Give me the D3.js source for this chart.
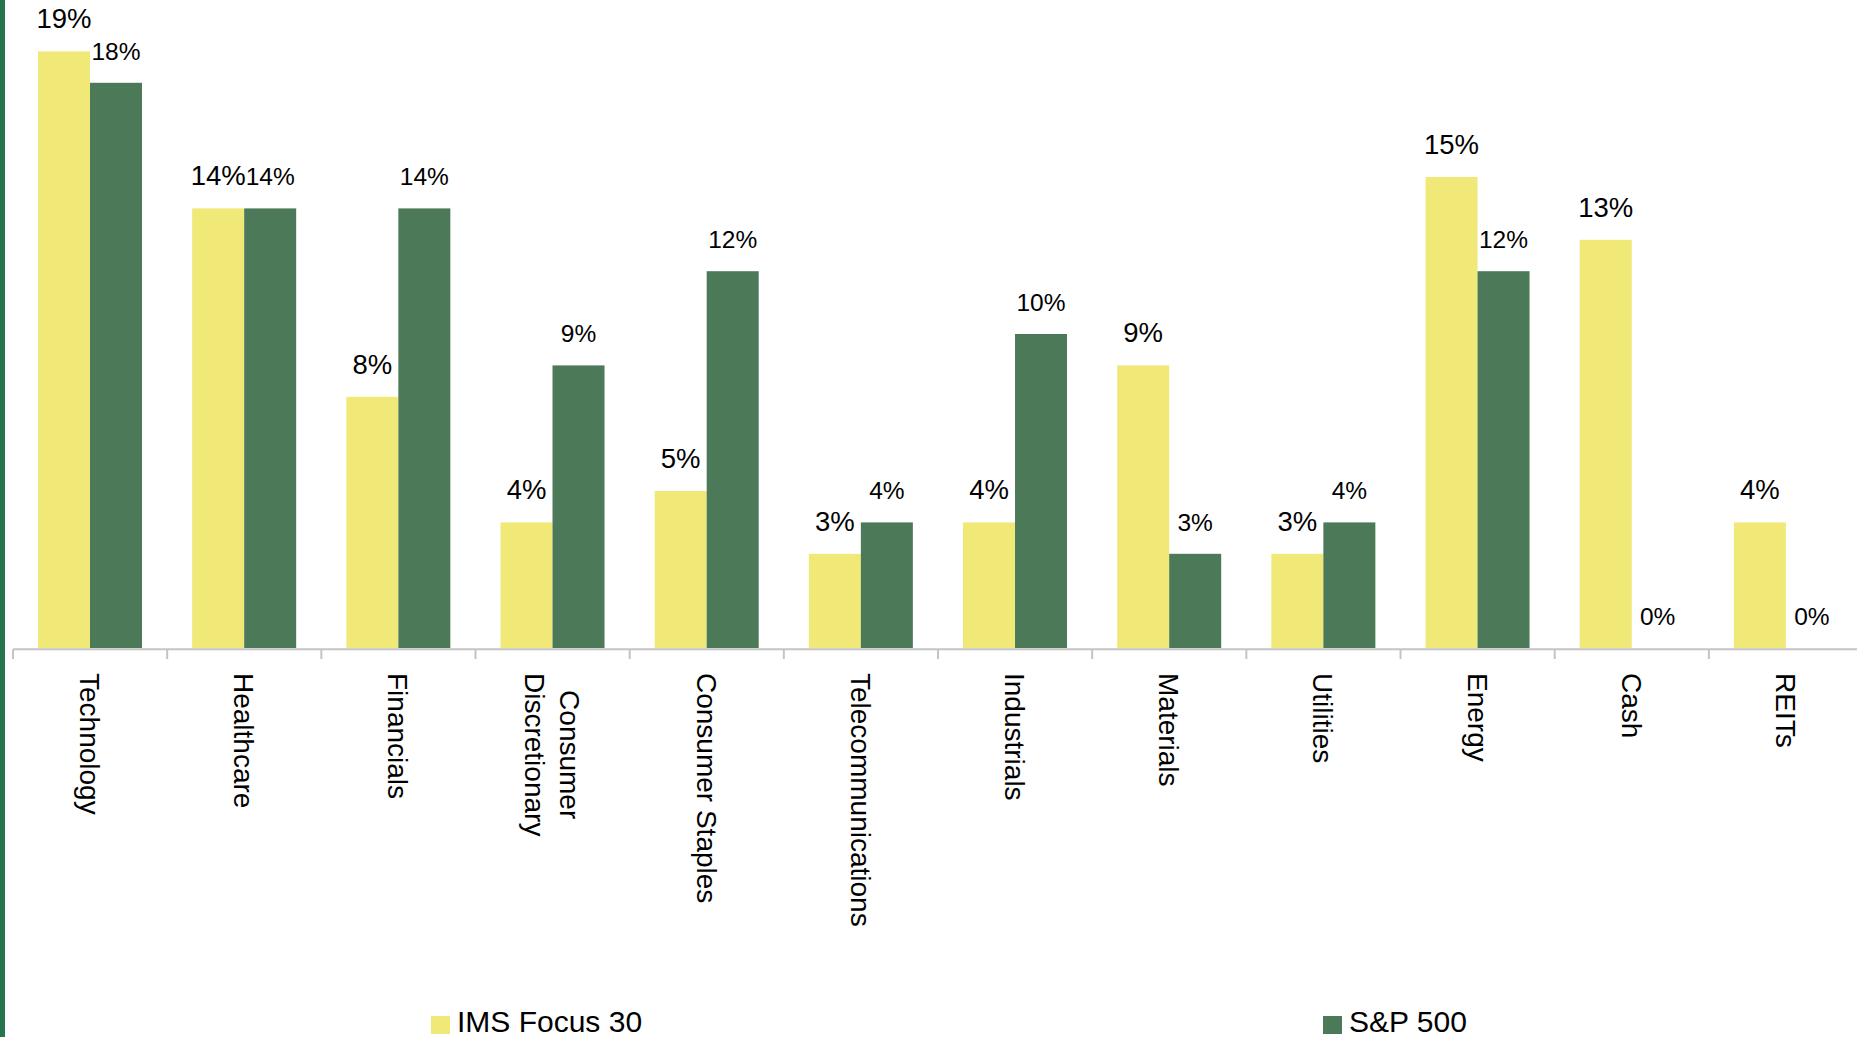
<!DOCTYPE html>
<html>
<head>
<meta charset="utf-8">
<script src="https://cdn.jsdelivr.net/npm/d3@7"></script>
<style>
  html, body { margin: 0; padding: 0; background: #fff; }
  svg { display: block; font-family: "Liberation Sans", Arial, Helvetica, sans-serif; }
</style>
</head>
<body>
<svg id="chart" width="1857" height="1037"></svg>
<script>
// Sector weights: IMS Focus 30 portfolio vs. S&P 500
const categories = ["Technology", "Healthcare", "Financials", "Consumer Discretionary",
  "Consumer Staples", "Telecommunications", "Industrials", "Materials", "Utilities",
  "Energy", "Cash", "REITs"];
const imsFocus30 = [0.19, 0.14, 0.08, 0.04, 0.05, 0.03, 0.04, 0.09, 0.03, 0.15, 0.13, 0.04];
const sp500      = [0.18, 0.14, 0.14, 0.09, 0.12, 0.04, 0.10, 0.03, 0.04, 0.12, 0.00, 0.00];
const seriesNames = ["IMS Focus 30", "S&P 500"];
const seriesColors = ["#f0e978", "#4c7a59"];

const W = 1857, H = 1037;
const svg = d3.select("#chart");

svg.append("rect").attr("width", W).attr("height", H).attr("fill", "#fff");
// left accent stripe
svg.append("rect").attr("x", 0).attr("y", 0).attr("width", 5).attr("height", H).attr("fill", "#25764f");

const plot = { left: 13, right: 13 + 12 * 154.17, top: 20, bottom: 648 };

const x = d3.scaleBand().domain(categories).range([plot.left, plot.right]).padding(0);
const xs = d3.scaleBand().domain(seriesNames).range([25, 129]).padding(0);
const y = d3.scaleLinear().domain([0, 0.20]).range([plot.bottom, plot.top]);
const fmt = d3.format(".0%");

const rows = categories.map((c, i) => ({ cat: c, vals: [imsFocus30[i], sp500[i]] }));

const groups = svg.append("g").selectAll("g").data(rows).join("g")
  .attr("transform", d => `translate(${x(d.cat)},0)`);

groups.selectAll("rect").data(d => d.vals.map((v, k) => ({ v, k }))).join("rect")
  .attr("x", d => xs(seriesNames[d.k]))
  .attr("width", xs.bandwidth())
  .attr("y", d => y(d.v))
  .attr("height", d => y(0) - y(d.v))
  .attr("fill", d => seriesColors[d.k]);

// value labels above each bar
groups.selectAll("text").data(d => d.vals.map((v, k) => ({ v, k }))).join("text")
  .attr("x", d => xs(seriesNames[d.k]) + xs.bandwidth() / 2)
  .attr("y", d => y(d.v) - 23)
  .attr("text-anchor", "middle")
  .attr("font-size", d => d.k === 0 ? 27.5 : 24.5)
  .attr("fill", "#000")
  .text(d => fmt(d.v));

// category axis
const axis = svg.append("g");
axis.append("line")
  .attr("x1", plot.left).attr("x2", plot.right)
  .attr("y1", plot.bottom + 1.3).attr("y2", plot.bottom + 1.3)
  .attr("stroke", "#c4c4c4").attr("stroke-width", 2);
axis.selectAll("line.tick").data(categories.concat([null])).join("line")
  .attr("class", "tick")
  .attr("x1", d => d === null ? plot.right : x(d))
  .attr("x2", d => d === null ? plot.right : x(d))
  .attr("y1", plot.bottom + 1.3).attr("y2", plot.bottom + 11)
  .attr("stroke", "#c4c4c4").attr("stroke-width", 2);

const labelSize = 28, lineH = 35, maxLen = 270;
const labels = axis.selectAll("g.lbl").data(categories).join("g")
  .attr("class", "lbl")
  .attr("transform", d => `translate(${x(d) + x.bandwidth() / 2},${plot.bottom + 25}) rotate(90)`);

labels.each(function(d) {
  const g = d3.select(this);
  const probe = g.append("text").attr("font-size", labelSize);
  const words = d.split(" ");
  const lines = [];
  let cur = "";
  words.forEach(w => {
    const test = cur ? cur + " " + w : w;
    probe.text(test);
    if (cur && probe.node().getComputedTextLength() > maxLen) { lines.push(cur); cur = w; }
    else cur = test;
  });
  lines.push(cur);
  const widths = lines.map(l => { probe.text(l); return probe.node().getComputedTextLength(); });
  probe.remove();
  const block = d3.max(widths);
  const t = g.append("text").attr("font-size", labelSize).attr("fill", "#000").attr("text-anchor", "middle");
  lines.forEach((l, i) => {
    t.append("tspan")
      .attr("x", block / 2)
      .attr("y", (i - (lines.length - 1) / 2) * lineH)
      .attr("dy", "0.36em")
      .text(l);
  });
});

// legend
const legendPos = [431, 1323];
const legend = svg.append("g").selectAll("g").data(seriesNames).join("g")
  .attr("transform", (d, i) => `translate(${legendPos[i]},0)`);
legend.append("rect").attr("x", 0).attr("y", 1016).attr("width", 19).attr("height", 18)
  .attr("fill", (d, i) => seriesColors[i]);
legend.append("text").attr("x", 26).attr("y", 1032).attr("font-size", 30).attr("fill", "#000")
  .text(d => d);
</script>
</body>
</html>
